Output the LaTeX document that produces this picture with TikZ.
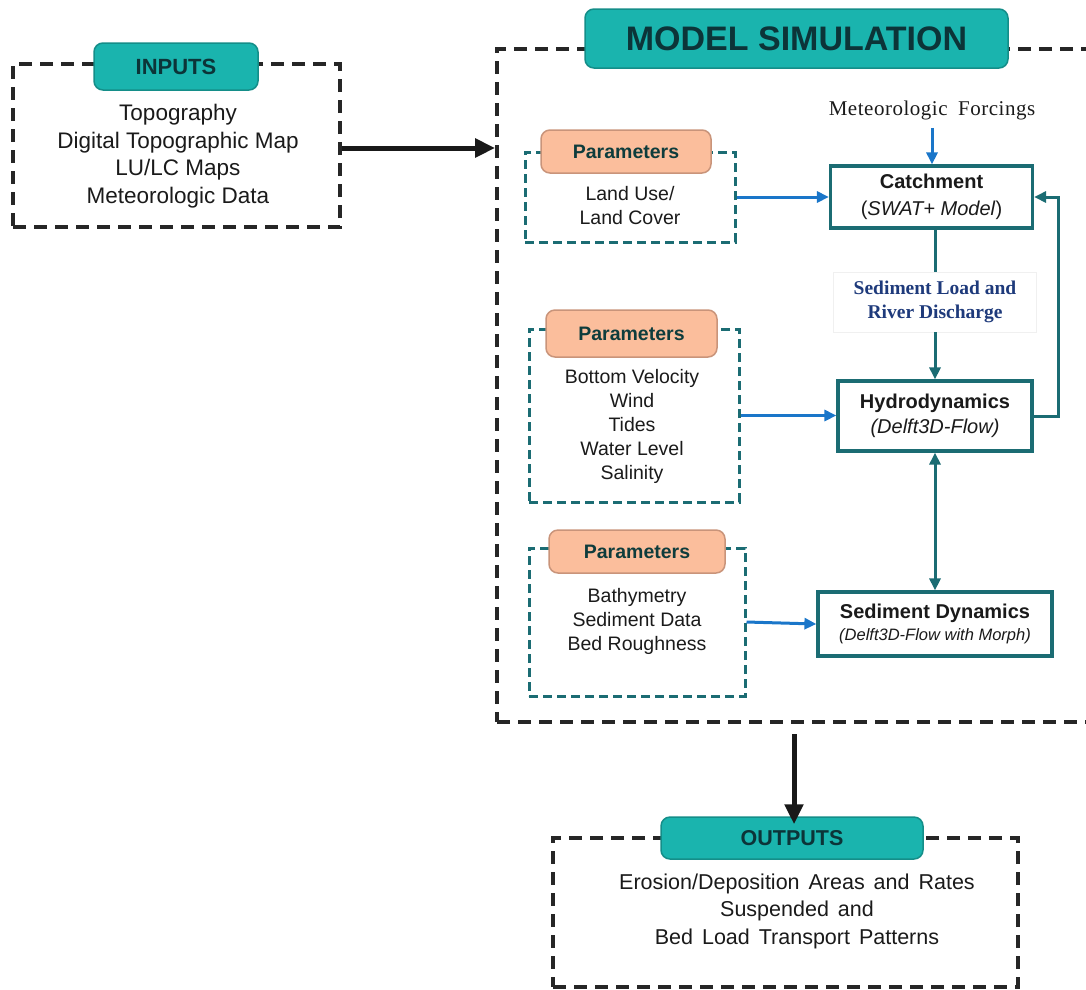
\documentclass[tikz,border=0pt]{standalone}
\usepackage{fontspec}
\setmainfont{Liberation Sans}
\newfontfamily\tim[WordSpace=1.8,LetterSpace=2.5]{Liberation Serif}
\newfontfamily\timlabel{Liberation Serif}
\newfontfamily\widesans[WordSpace=1.5]{Liberation Sans}
\usetikzlibrary{arrows.meta}
\definecolor{tealfill}{HTML}{1AB4AE}
\definecolor{tealborder}{HTML}{148E89}
\definecolor{titletext}{HTML}{0C3438}
\definecolor{peach}{HTML}{FBBE9C}
\definecolor{peachborder}{HTML}{C9947A}
\definecolor{paramtext}{HTML}{0E3C3C}
\definecolor{tealcol}{HTML}{1B6C73}
\definecolor{arrowblue}{HTML}{1A76C9}
\definecolor{labelblue}{HTML}{1E3A7B}
\definecolor{bodytext}{HTML}{1A1A1A}
\tikzset{
  blackdash/.style={draw=black!85, line width=3.6pt, dash pattern=on 13pt off 8pt},
  tealdash/.style={draw=tealcol, line width=3pt, dash pattern=on 9pt off 5pt},
  titlebox/.style={fill=tealfill, draw=tealborder, line width=1.5pt, rounded corners=9pt, text=titletext, inner sep=0pt},
  parambox/.style={fill=peach, draw=peachborder, line width=1.5pt, rounded corners=9pt, text=paramtext, inner sep=0pt, font=\fontsize{19.5}{23}\selectfont\bfseries},
  modelbox/.style={draw=tealcol, line width=3.2pt, fill=white, align=center, text=bodytext, inner sep=0pt},
  bodytxt/.style={align=center, text=bodytext, inner sep=0pt},
  bluearrow/.style={draw=arrowblue, line width=3pt, -{Triangle[length=12pt,width=11pt]}},
  tealarrow/.style={draw=tealcol, line width=3pt, -{Triangle[length=12pt,width=11pt]}},
  tealconn/.style={draw=tealcol, line width=3pt},
  bigarrow/.style={draw=black!90, line width=5pt, -{Triangle[length=20pt,width=18pt]}}
}
\begin{document}
\begin{tikzpicture}[x=1pt,y=-1pt]
\useasboundingbox (0,0) rectangle (1086,989);
\clip (0,0) rectangle (1086,989);

% ---------- INPUTS ----------
\node[blackdash, minimum width=327pt, minimum height=163pt, inner sep=0pt] (inbox) at (176.5,145.5) {};
\node[titlebox, minimum width=164pt, minimum height=47pt, font=\fontsize{22}{26}\selectfont\bfseries] (intitle) at (176,66.5) {INPUTS};
\node[bodytxt, font=\fontsize{22.5}{27.5}\selectfont] (intext) at (178,156) {Topography\\Digital Topographic Map\\LU/LC Maps\\Meteorologic Data};

% ---------- MODEL SIMULATION ----------
\node[blackdash, minimum width=613pt, minimum height=673pt, inner sep=0pt] (model) at (803.5,385.5) {};
\node[titlebox, minimum width=423pt, minimum height=59pt, font=\fontsize{34}{40}\selectfont\bfseries] (mtitle) at (796.5,38.5) {MODEL SIMULATION};

\draw[bigarrow] ([yshift=-2.5pt]inbox.east) -- ([yshift=-2.5pt]inbox.east -| model.west);

% Parameters 1
\node[tealdash, minimum width=210pt, minimum height=90pt, inner sep=0pt] (p1) at (630,197) {};
\node[parambox, minimum width=170pt, minimum height=43pt] (p1t) at (626,151.5) {Parameters};
\node[bodytxt, font=\fontsize{19.5}{24}\selectfont] (p1x) at (630,206) {Land Use/\\Land Cover};

% Parameters 2
\node[tealdash, minimum width=210pt, minimum height=173pt, inner sep=0pt] (p2) at (634,415.5) {};
\node[parambox, minimum width=171pt, minimum height=47pt] (p2t) at (631.5,333.5) {Parameters};
\node[bodytxt, font=\fontsize{19.5}{24}\selectfont] (p2x) at (632,426) {Bottom Velocity\\Wind\\Tides\\Water Level\\Salinity};

% Parameters 3
\node[tealdash, minimum width=216pt, minimum height=148pt, inner sep=0pt] (p3) at (637,622) {};
\node[parambox, minimum width=176pt, minimum height=43pt] (p3t) at (637,551.5) {Parameters};
\node[bodytxt, font=\fontsize{19.5}{24}\selectfont] (p3x) at (637,621) {Bathymetry\\Sediment Data\\Bed Roughness};

% Model nodes
\node[bodytxt, font=\tim\fontsize{21}{25}\selectfont] (met) at (932,110) {Meteorologic Forcings};
\node[modelbox, minimum width=202pt, minimum height=62pt, font=\fontsize{20}{27}\selectfont] (catch) at (931.5,197) {\textbf{Catchment}\\(\textit{SWAT+ Model})};
\node[draw=black!6, line width=0.6pt, fill=white, minimum width=203pt, minimum height=60pt, align=center, inner sep=0pt, text=labelblue, font=\timlabel\fontsize{19.5}{23.5}\selectfont\bfseries] (sedl) at (935,302) {Sediment Load and\\River Discharge};
\node[modelbox, minimum width=194pt, minimum height=70pt, font=\fontsize{20}{25}\selectfont] (hydro) at (935,416) {\textbf{Hydrodynamics}\\\textit{(Delft3D-Flow)}};
\node[modelbox, minimum width=234pt, minimum height=64pt, font=\fontsize{20}{21.5}\selectfont] (sed) at (935,624) {\textbf{Sediment Dynamics}\\{\fontsize{16.5}{20}\selectfont\itshape (Delft3D-Flow with Morph)}};

% connectors inside model
\draw[bluearrow] ([yshift=-8pt]met.south) -- (met.south |- catch.north);
\draw[bluearrow] (p1.east) -- (p1.east -| catch.west);
\draw[bluearrow] (p2.east) -- (p2.east -| hydro.west);
\draw[bluearrow] (p3.east) -- (sed.west);
\draw[tealconn] (sedl.north |- catch.south) -- (sedl.north);
\draw[tealarrow] (sedl.south) -- (sedl.south |- hydro.north);
\draw[tealarrow, {Triangle[length=12pt,width=11pt]}-{Triangle[length=12pt,width=11pt]}] (hydro.south) -- (hydro.south |- sed.north);
\coordinate (fb) at (1058,300);
\draw[tealarrow] (hydro.east) -| (fb) |- (catch.east);

% ---------- OUTPUTS ----------
\node[blackdash, minimum width=465pt, minimum height=149pt, inner sep=0pt] (outbox) at (785.5,912.5) {};
\node[titlebox, minimum width=262pt, minimum height=42pt, font=\fontsize{21.5}{26}\selectfont\bfseries] (outtitle) at (792,838) {OUTPUTS};
\node[bodytxt, font=\widesans\fontsize{21.5}{27.5}\selectfont] (outtext) at (797,911) {Erosion/Deposition Areas and Rates\\Suspended and\\Bed Load Transport Patterns};
\coordinate (oa) at (794,734);
\draw[bigarrow] (oa) -- ([yshift=-8pt]oa |- outtitle.north);
\end{tikzpicture}
\end{document}
